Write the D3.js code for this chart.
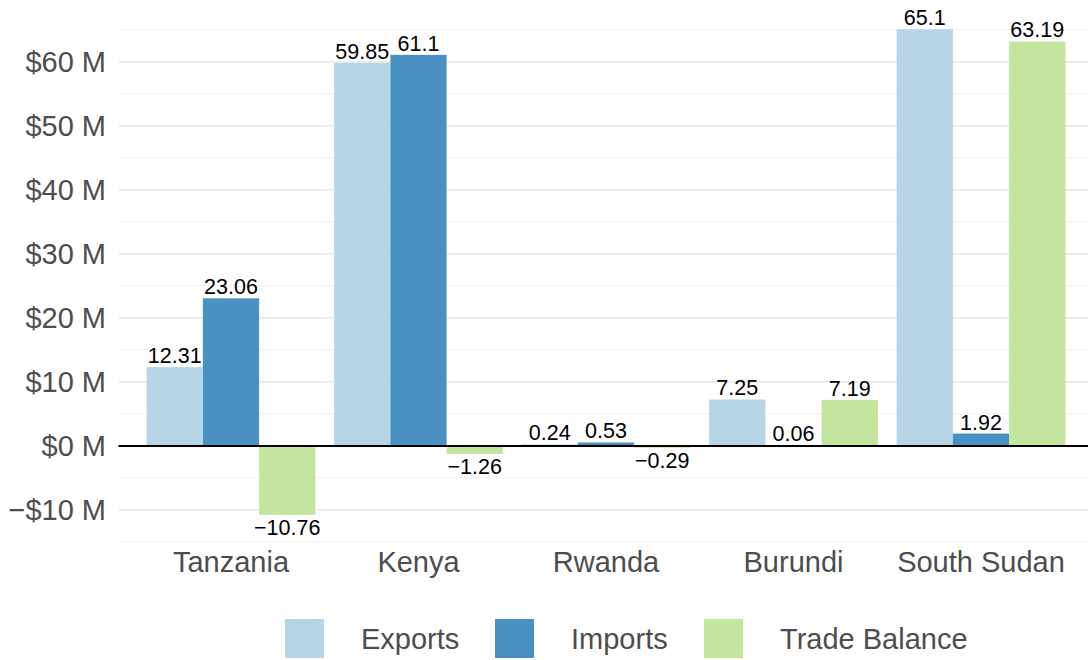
<!DOCTYPE html>
<html>
<head>
<meta charset="utf-8">
<script src="https://cdn.jsdelivr.net/npm/d3@7"></script>
<style>
  body { margin: 0; background: #fff; }
  svg text { font-family: "Liberation Sans", Arial, sans-serif; }
</style>
</head>
<body>
<div id="chart"></div>
<script>
// Trade with neighbours, values in $ millions
const countries = ["Tanzania", "Kenya", "Rwanda", "Burundi", "South Sudan"];
const series = ["Exports", "Imports", "Trade Balance"];
const exportsVals = [12.31, 59.85, 0.24, 7.25, 65.1];
const importsVals = [23.06, 61.1, 0.53, 0.06, 1.92];
const balanceVals = [-10.76, -1.26, -0.29, 7.19, 63.19];
const yTicks = [-10, 0, 10, 20, 30, 40, 50, 60];
const yMinor = [-15, -5, 5, 15, 25, 35, 45, 55, 65];
const colors = ["#b6d6e8", "#4a91c3", "#c3e59e"];

const w = 1088, h = 660;
const svg = d3.select("#chart").append("svg")
  .attr("width", w).attr("height", h);

const data = countries.map((c, i) => ({
  country: c,
  values: [exportsVals[i], importsVals[i], balanceVals[i]]
}));

// scales
const x = d3.scaleBand()
  .domain(countries)
  .range([118.5, 1093.5])
  .paddingInner(0.1)
  .paddingOuter(0.15);

const xSub = d3.scaleBand()
  .domain(series)
  .range([0, x.bandwidth()]);

const y = d3.scaleLinear()
  .domain([-14.55, 68.89])
  .range([539, 5]);

// grid
svg.append("g").selectAll("line")
  .data(yMinor).join("line")
  .attr("x1", 118.5).attr("x2", w)
  .attr("y1", d => y(d)).attr("y2", d => y(d))
  .attr("stroke", "#f0f0f0").attr("stroke-width", 1);

svg.append("g").selectAll("line")
  .data(yTicks).join("line")
  .attr("x1", 118.5).attr("x2", w)
  .attr("y1", d => y(d)).attr("y2", d => y(d))
  .attr("stroke", "#ebebeb").attr("stroke-width", 1.6);

// y axis labels
svg.append("g").selectAll("text")
  .data(yTicks).join("text")
  .attr("x", 106)
  .attr("y", d => y(d))
  .attr("dy", "0.36em")
  .attr("text-anchor", "end")
  .attr("font-size", 29)
  .attr("fill", "#4d4d4d")
  .text(d => (d < 0 ? "\u2212$" + Math.abs(d) : "$" + d) + " M");

// bars
const groups = svg.append("g").selectAll("g")
  .data(data).join("g")
  .attr("transform", d => `translate(${x(d.country)},0)`);

const cells = d => d.values.map((v, j) => ({ key: series[j], v: v, j: j }));

groups.selectAll("rect")
  .data(cells).join("rect")
  .attr("x", d => xSub(d.key))
  .attr("width", xSub.bandwidth())
  .attr("y", d => y(Math.max(0, d.v)))
  .attr("height", d => Math.abs(y(d.v) - y(0)))
  .attr("fill", d => colors[d.j]);

// value labels
groups.selectAll("text")
  .data(cells).join("text")
  .attr("x", d => xSub(d.key) + xSub.bandwidth() / 2)
  .attr("y", d => d.v >= 0 ? y(d.v) - 4 : y(d.v) + 20)
  .attr("text-anchor", "middle")
  .attr("font-size", 21.5)
  .attr("fill", "#000")
  .text(d => d.v < 0 ? "\u2212" + Math.abs(d.v) : d.v);

// zero line
svg.append("line")
  .attr("x1", 118.5).attr("x2", w)
  .attr("y1", y(0)).attr("y2", y(0))
  .attr("stroke", "#000").attr("stroke-width", 2);

// x axis labels
svg.append("g").selectAll("text")
  .data(countries).join("text")
  .attr("x", d => x(d) + x.bandwidth() / 2)
  .attr("y", 572)
  .attr("text-anchor", "middle")
  .attr("font-size", 29)
  .attr("fill", "#4d4d4d")
  .text(d => d);

// legend
const legendX = [285, 495, 704];
const legend = svg.append("g").selectAll("g")
  .data(series).join("g")
  .attr("transform", (d, i) => `translate(${legendX[i]},619)`);

legend.append("rect")
  .attr("width", 39).attr("height", 39)
  .attr("fill", (d, i) => colors[i]);

legend.append("text")
  .attr("x", 76)
  .attr("y", 29.5)
  .attr("font-size", 29)
  .attr("fill", "#4d4d4d")
  .text(d => d);
</script>
</body>
</html>
